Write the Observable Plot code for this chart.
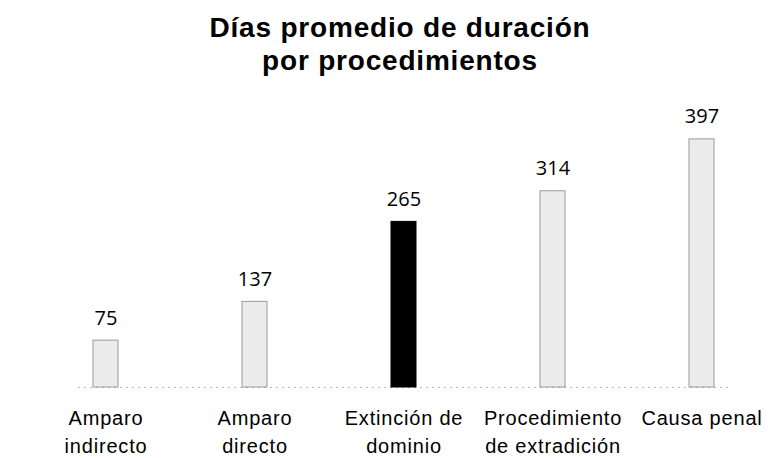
<!DOCTYPE html>
<html>
<head>
<meta charset="utf-8">
<script src="https://cdn.jsdelivr.net/npm/d3@7"></script>
<script src="https://cdn.jsdelivr.net/npm/@observablehq/plot@0.6"></script>
<style>
  html, body { margin: 0; padding: 0; background: #fff; }
  #wrap { width: 771px; height: 458px; overflow: hidden; }
  #title {
    font-family: "Liberation Sans", Arial, sans-serif;
    font-weight: bold; font-size: 28px; line-height: 33px; letter-spacing: 0.8px;
    text-align: center; color: #000;
    box-sizing: border-box; padding-top: 11px; height: 84px; margin-left: 29px;
  }
</style>
</head>
<body>
<div id="wrap">
  <div id="title">Días promedio de duración<br>por procedimientos</div>
  <div id="chart"></div>
</div>
<script>
const categories = ["Amparo\nindirecto", "Amparo\ndirecto", "Extinción de\ndominio", "Procedimiento\nde extradición", "Causa penal"];
const values = [75, 137, 265, 314, 397];
const highlighted = [false, false, true, false, false];

const data = categories.map((c, i) => ({cat: c, value: values[i], hi: highlighted[i]}));

const chart = Plot.plot({
  width: 771,
  height: 374,
  marginTop: 53,
  marginBottom: 71,
  marginLeft: 78,
  marginRight: 41,
  x: {domain: categories, paddingInner: 0.83, paddingOuter: 0.1, label: null},
  y: {domain: [0, 400], axis: null},
  style: {fontFamily: "'Liberation Sans', Arial, sans-serif", color: "#000", background: "#fff"},
  marks: [
    Plot.ruleY([0], {stroke: "#b5b5b5", strokeDasharray: "2,4"}),
    Plot.barY(data, {
      x: "cat", y: "value",
      fill: d => d.hi ? "#000" : "#ececec",
      stroke: d => d.hi ? "#000" : "#9a9a9a",
      strokeDasharray: d => d.hi ? null : "1.5,2",
      strokeWidth: 1
    }),
    Plot.text(data, {
      x: "cat", y: "value", text: d => String(d.value),
      lineAnchor: "bottom", dy: -16,
      fontSize: 20, fontFamily: "'Open Sans', Carlito, sans-serif", fill: "#000"
    }),
    Plot.axisX({
      tickSize: 0, tickPadding: 18, fontSize: 20, lineHeight: 1.4,
      label: null, fill: "#000", style: {letterSpacing: "0.8px"}
    })
  ]
});
chart.querySelectorAll("g[aria-label='x-axis tick label'] text").forEach(t => t.style.letterSpacing = "0.8px");
document.getElementById("chart").appendChild(chart);
</script>
</body>
</html>
